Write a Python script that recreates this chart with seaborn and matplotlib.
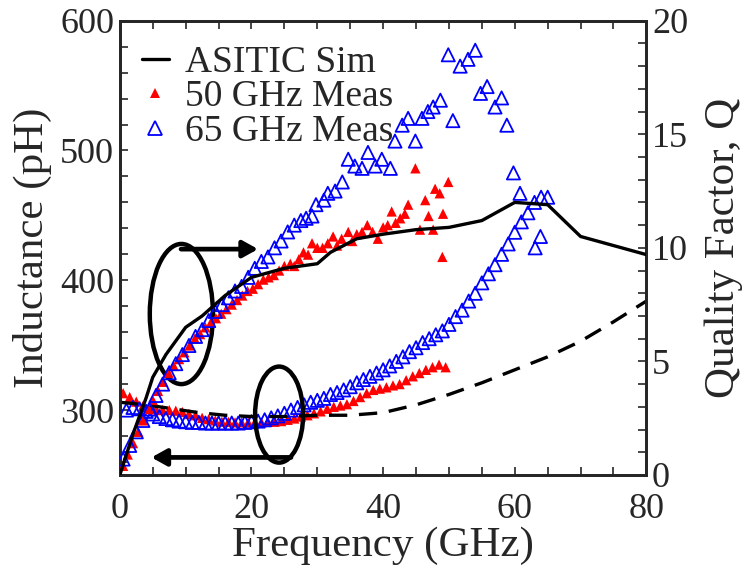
import matplotlib
matplotlib.use("Agg")
import matplotlib.pyplot as plt
from matplotlib.patches import Ellipse
from matplotlib.lines import Line2D
from matplotlib.ticker import MultipleLocator
import seaborn as sns
import pandas as pd

# ---------------- data ----------------
# ASITIC simulation
sim_q_freq = [0, 2, 4, 5, 7, 10, 12.5, 16, 20, 25, 30, 32, 36, 40, 45, 50, 55, 60, 65, 70, 80]
sim_q = [0, 1.8, 3.4, 4.3, 5.3, 6.5, 7.0, 7.9, 8.7, 9.1, 9.3, 9.8, 10.4, 10.6, 10.8, 10.9, 11.2, 12.0, 11.9, 10.5, 9.7]

sim_l_freq = [0, 4, 8, 12, 16, 20, 25, 30, 35, 40, 45, 50, 55, 60, 65, 70, 75, 80]
sim_l = [306, 304, 301, 298, 296, 295, 295, 296, 296, 298, 304, 312, 321, 331, 341, 353, 368, 384]

# 50 GHz measurement
m50_l_freq = [0.5, 1.5, 2.5, 3.5, 4.5, 5.5, 6.5, 7.5, 8.5, 9.5, 10.5, 11.5, 12.5, 13.5, 14.5,
              15.5, 16.5, 17.5, 18.5, 19.5, 20.5, 21.5, 22.5, 23.5, 24.5, 25.5, 26.5, 27.5,
              28.5, 29.5, 30.5, 31.5, 32.5, 33.5, 34.5, 35.5, 36.5, 37.5, 38.5, 39.5, 40.5,
              41.5, 42.5, 43.5, 44.5, 45.5, 46.5, 47.5, 48.5, 49.5]
m50_l = [313, 310, 306.5, 303, 302, 300.5, 300, 300, 299.5, 298.5, 297, 296, 294, 293, 292,
         291, 291, 290.5, 290.5, 290.5, 290.5, 290.5, 291, 291, 291.5, 292.5, 293.5, 295,
         296, 297.5, 299, 301, 302.5, 303.5, 304.5, 307, 310, 313, 315.5, 316.5, 317.5,
         319, 320, 323, 326, 328.5, 331, 333, 335, 333]

m50_q_freq = [0.5, 1.2, 2.0, 2.8, 3.5, 4.3, 5.0, 5.8, 6.6, 7.4, 8.2, 9.0, 9.8, 10.6, 11.4,
              12.2, 13.0, 13.8, 14.6, 15.4, 16.2, 17.0, 17.8, 18.6, 19.4, 20.2, 21.0, 21.8,
              22.6, 23.4, 24.2, 25.0, 25.9, 26.5, 27.2, 27.9, 28.6, 29.2, 30.0, 30.8, 31.6,
              32.4, 33.0, 33.7, 34.7, 35.3, 36.0, 36.8, 37.6, 38.4, 39.2, 40.0, 40.7, 41.3,
              41.9, 42.6, 43.3, 43.8, 44.9, 45.6, 46.4, 46.9, 47.6, 47.9, 48.6, 49.0, 49.1, 49.9]
m50_q = [0.4, 0.9, 1.4, 1.9, 2.4, 2.9, 3.3, 3.7, 4.1, 4.5, 4.8, 5.1, 5.4, 5.7, 6.0,
         6.2, 6.5, 6.7, 6.9, 7.1, 7.3, 7.5, 7.7, 7.9, 8.1, 8.2, 8.4, 8.6,
         8.7, 8.8, 9.0, 9.2, 9.3, 9.2, 9.5, 9.8, 9.7, 10.2, 10.0, 10.0, 10.2,
         10.5, 10.1, 10.4, 10.7, 10.3, 10.6, 10.7, 11.0, 10.7, 10.4, 10.9, 11.0, 11.6,
         11.1, 11.3, 11.5, 11.9, 13.5, 10.8, 12.1, 11.4, 10.8, 12.6, 12.4, 9.6, 11.5, 12.9]

# 65 GHz measurement
m65_l_freq = list(range(1, 66))
m65_l = [300, 302, 301, 299, 297, 295, 293.5, 292.5, 291.5, 291, 290.5, 290.5, 290, 290, 290,
         290, 290, 290, 290.5, 291, 291.5, 292.5, 294, 295.5, 297.5, 300, 302, 304, 306,
         307.5, 309, 312, 313.5, 315.5, 318, 321, 323.5, 326, 328.5, 331, 334, 337.5, 341,
         345, 348, 352, 355, 358, 361, 366, 372, 377, 384, 390, 398, 405, 412, 420, 428,
         437, 445, 452, 460, 464, 464]

m65_q_freq = [0.5, 1.5, 2.5, 3.5, 4.5, 5.5, 6.5, 7.5, 8.5, 9.5, 10.5, 11.5, 12.5, 13.5, 14.5,
              15.5, 16.5, 17.5, 18.5, 19.5, 20.5, 21.5, 22.5, 23.5, 24.5, 25.5, 26.5, 27.5,
              28.3, 29.2, 29.8, 31.0, 31.6, 32.7, 33.8, 34.7, 35.7, 36.8, 37.7, 38.8, 39.8,
              41.1, 41.8, 42.9, 43.8, 44.9, 45.9, 46.8, 47.6, 48.7, 49.9, 50.6, 51.7, 52.9,
              54.0, 54.8, 55.8, 57.0, 58.0, 58.8, 59.8, 60.8, 63.1, 63.9]
m65_q = [0.7, 1.3, 1.9, 2.4, 2.9, 3.5, 4.0, 4.5, 4.9, 5.3, 5.7, 6.1, 6.4, 6.8, 7.2,
         7.5, 7.8, 8.1, 8.3, 8.7, 9.1, 9.4, 9.6, 10.0, 10.3, 10.7, 11.0, 11.2,
         11.3, 11.4, 11.9, 12.1, 12.4, 12.5, 12.9, 13.9, 13.6, 13.5, 14.2, 13.6, 13.9,
         13.5, 14.7, 15.4, 15.7, 14.7, 15.7, 16.0, 16.2, 16.5, 18.5, 15.6, 18.0, 18.3,
         18.7, 16.8, 17.1, 16.2, 16.6, 15.4, 13.3, 12.4, 10.0, 10.5]

legend_labels = ["ASITIC Sim", "50 GHz Meas", "65 GHz Meas"]

# ---------------- style ----------------
sns.set_style("ticks")
plt.rcParams["font.family"] = ["Liberation Serif", "DejaVu Serif"]

fig = plt.figure(figsize=(7.49, 5.75), dpi=100)
ax = fig.add_axes([0.160, 0.174, 0.703, 0.790])
ax2 = ax.twinx()

# measured markers
sns.scatterplot(x=m50_l_freq, y=m50_l, ax=ax, marker="^", s=55, color="red",
                edgecolor="none", linewidth=0, zorder=3)
sns.scatterplot(x=m65_l_freq, y=m65_l, ax=ax, marker="^", s=90, color="blue",
                linewidth=1.3, zorder=4)
ax.collections[-1].set_facecolor("none")
ax.collections[-1].set_edgecolor("blue")

sns.scatterplot(x=m50_q_freq, y=m50_q, ax=ax2, marker="^", s=55, color="red",
                edgecolor="none", linewidth=0, zorder=3)
sns.scatterplot(x=m65_q_freq, y=m65_q, ax=ax2, marker="^", s=90, color="blue",
                linewidth=1.3, zorder=4)
ax2.collections[-1].set_facecolor("none")
ax2.collections[-1].set_edgecolor("blue")

# simulated lines
sns.lineplot(x=sim_l_freq, y=sim_l, ax=ax, color="black", linewidth=2.4,
             linestyle=(0, (5.5, 3.5)), zorder=5)
sns.lineplot(x=sim_q_freq, y=sim_q, ax=ax2, color="black", linewidth=2.4, zorder=5)

# axes limits / ticks
ax.set_xlim(0, 80)
ax.set_ylim(250, 600)
ax2.set_ylim(0, 20)
ax.xaxis.set_major_locator(MultipleLocator(20))
ax.xaxis.set_minor_locator(MultipleLocator(5))
ax.yaxis.set_major_locator(MultipleLocator(100))
ax.yaxis.set_minor_locator(MultipleLocator(20))
ax2.yaxis.set_major_locator(MultipleLocator(5))
ax2.yaxis.set_minor_locator(MultipleLocator(1))

for a in (ax, ax2):
    a.tick_params(which="both", direction="in", length=6, width=1.2, labelsize=26,
                  pad=4)
    for sp in a.spines.values():
        sp.set_linewidth(2.0)
        sp.set_visible(True)
ax.tick_params(which="both", top=True, right=False)
ax.tick_params(axis="x", pad=13)
ax2.tick_params(which="both", left=False, right=True)

ax.set_xlabel("Frequency (GHz)", fontsize=31, labelpad=0)
ax.set_ylabel("Inductance (pH)", fontsize=31, labelpad=6)
ax2.set_ylabel("Quality Factor, Q", fontsize=31, labelpad=12)

# annotations (ellipses and arrows)
ell1 = Ellipse((9.35, 374), width=9.6, height=108, fill=False, lw=3.2, color="black", zorder=6)
ell2 = Ellipse((24.2, 296.5), width=7.3, height=74, fill=False, lw=3.2, color="black", zorder=6)
ax.add_patch(ell1)
ax.add_patch(ell2)
ax.annotate("", xy=(21.0, 424), xytext=(9.3, 424),
            arrowprops=dict(arrowstyle="-|>,head_length=0.9,head_width=0.5",
                            lw=3.4, color="black", shrinkA=0, shrinkB=0), zorder=6)
ax.annotate("", xy=(4.8, 263.5), xytext=(26.0, 263.5),
            arrowprops=dict(arrowstyle="-|>,head_length=0.9,head_width=0.5",
                            lw=3.4, color="black", shrinkA=0, shrinkB=0), zorder=6)

# legend
handles = [
    Line2D([], [], color="black", lw=2.4),
    Line2D([], [], color="red", marker="^", linestyle="none", markersize=7.5, markeredgewidth=0),
    Line2D([], [], color="blue", marker="^", linestyle="none", markersize=9.5,
           markerfacecolor="none", markeredgewidth=1.3),
]
ax.legend(handles, legend_labels, loc="upper left", frameon=False, fontsize=27,
          handlelength=0.7, handletextpad=0.45, labelspacing=0.0,
          borderaxespad=0.2, bbox_to_anchor=(0.0, 0.995))

fig.savefig("out.png", dpi=100)
